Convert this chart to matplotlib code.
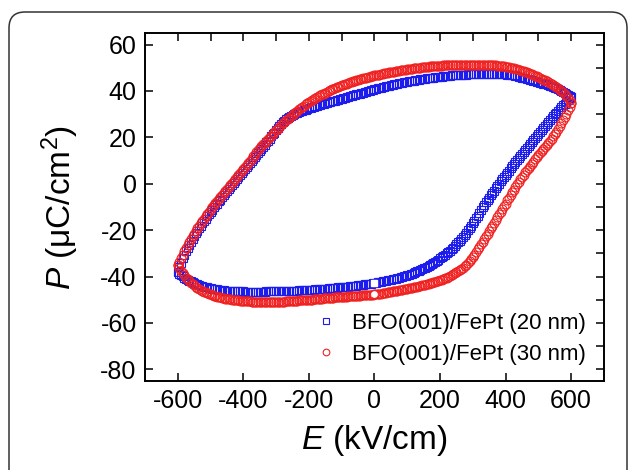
import matplotlib
matplotlib.use('Agg')
import matplotlib.pyplot as plt
from matplotlib.patches import FancyBboxPatch
from matplotlib.ticker import MultipleLocator
from matplotlib.transforms import IdentityTransform

plt.rcParams['font.family'] = ['Liberation Sans', 'DejaVu Sans']
plt.rcParams['mathtext.fontset'] = 'custom'
plt.rcParams['mathtext.rm'] = 'Liberation Sans'
plt.rcParams['mathtext.it'] = 'Liberation Sans:italic'
plt.rcParams['axes.unicode_minus'] = False

# field sweep (kV/cm), 5 kV/cm step
E_SWEEP = [-600, -595, -590, -585, -580, -575, -570, -565, -560, -555, -550, -545, -540, -535, -530, -525, -520, -515, -510, -505,
           -500, -495, -490, -485, -480, -475, -470, -465, -460, -455, -450, -445, -440, -435, -430, -425, -420, -415, -410, -405,
           -400, -395, -390, -385, -380, -375, -370, -365, -360, -355, -350, -345, -340, -335, -330, -325, -320, -315, -310, -305,
           -300, -295, -290, -285, -280, -275, -270, -265, -260, -255, -250, -245, -240, -235, -230, -225, -220, -215, -210, -205,
           -200, -195, -190, -185, -180, -175, -170, -165, -160, -155, -150, -145, -140, -135, -130, -125, -120, -115, -110, -105,
           -100, -95, -90, -85, -80, -75, -70, -65, -60, -55, -50, -45, -40, -35, -30, -25, -20, -15, -10, -5,
           0, 5, 10, 15, 20, 25, 30, 35, 40, 45, 50, 55, 60, 65, 70, 75, 80, 85, 90, 95,
           100, 105, 110, 115, 120, 125, 130, 135, 140, 145, 150, 155, 160, 165, 170, 175, 180, 185, 190, 195,
           200, 205, 210, 215, 220, 225, 230, 235, 240, 245, 250, 255, 260, 265, 270, 275, 280, 285, 290, 295,
           300, 305, 310, 315, 320, 325, 330, 335, 340, 345, 350, 355, 360, 365, 370, 375, 380, 385, 390, 395,
           400, 405, 410, 415, 420, 425, 430, 435, 440, 445, 450, 455, 460, 465, 470, 475, 480, 485, 490, 495,
           500, 505, 510, 515, 520, 525, 530, 535, 540, 545, 550, 555, 560, 565, 570, 575, 580, 585, 590, 595,
           600]

# 20 nm sample, upper / lower branch (uC/cm2)
P20_UP = [-38, -36, -34, -32.2, -30.5, -29, -27.5, -26.2, -25, -23.7, -22.5, -21.3, -20.2, -19.1, -18.1, -17, -16, -15, -14, -13,
          -12, -11.1, -10.2, -9.3, -8.5, -7.6, -6.8, -5.9, -5, -4.1, -3.2, -2.3, -1.5, -0.6, 0.3, 1.1, 2, 2.9, 3.8, 4.6,
          5.5, 6.4, 7.3, 8.1, 9, 9.9, 10.8, 11.6, 12.5, 13.4, 14.3, 15.1, 16, 16.9, 17.8, 18.6, 19.5, 20.4, 21.3, 22.1,
          23, 23.9, 24.8, 25.7, 26.5, 27.2, 27.8, 28.3, 28.8, 29.2, 29.6, 30, 30.3, 30.7, 31, 31.3, 31.5, 31.8, 32, 32.3,
          32.5, 32.8, 33, 33.2, 33.4, 33.7, 33.9, 34.1, 34.3, 34.5, 34.7, 34.9, 35.1, 35.3, 35.5, 35.7, 35.9, 36.1, 36.3, 36.5,
          36.7, 36.9, 37.1, 37.3, 37.5, 37.7, 37.9, 38.1, 38.3, 38.5, 38.7, 38.9, 39.1, 39.3, 39.5, 39.7, 39.9, 40.1, 40.3, 40.5,
          40.7, 40.9, 41.1, 41.3, 41.4, 41.6, 41.8, 42, 42.1, 42.3, 42.5, 42.7, 42.8, 43, 43.1, 43.3, 43.4, 43.6, 43.7, 43.9,
          44, 44.2, 44.3, 44.4, 44.5, 44.7, 44.8, 44.9, 45, 45.1, 45.2, 45.3, 45.4, 45.5, 45.6, 45.7, 45.8, 45.9, 46, 46.1,
          46.1, 46.2, 46.3, 46.4, 46.4, 46.5, 46.6, 46.7, 46.7, 46.8, 46.8, 46.9, 46.9, 47, 47, 47.1, 47.1, 47.2, 47.2, 47.3,
          47.3, 47.4, 47.4, 47.4, 47.4, 47.5, 47.5, 47.5, 47.5, 47.5, 47.5, 47.5, 47.5, 47.5, 47.5, 47.5, 47.4, 47.4, 47.3, 47.3,
          47.2, 47.1, 47, 46.9, 46.8, 46.7, 46.5, 46.4, 46.2, 46, 45.8, 45.6, 45.4, 45.2, 45, 44.8, 44.6, 44.4, 44.2, 44,
          43.8, 43.6, 43.4, 43.2, 43, 42.8, 42.5, 42.3, 42, 41.7, 41.4, 41.1, 40.8, 40.5, 40.1, 39.7, 39.3, 38.9, 38.4, 38,
          37.5]
P20_DN = [-38, -38.7, -39.3, -39.9, -40.4, -40.9, -41.3, -41.7, -42.1, -42.5, -42.8, -43.1, -43.4, -43.7, -43.9, -44.1, -44.3, -44.5, -44.7, -44.9,
          -45, -45.2, -45.3, -45.4, -45.5, -45.6, -45.7, -45.8, -45.9, -46, -46, -46.1, -46.1, -46.2, -46.2, -46.3, -46.3, -46.4, -46.4, -46.4,
          -46.4, -46.5, -46.5, -46.5, -46.5, -46.5, -46.5, -46.5, -46.5, -46.5, -46.5, -46.5, -46.5, -46.5, -46.4, -46.4, -46.4, -46.4, -46.4, -46.4,
          -46.3, -46.3, -46.3, -46.3, -46.2, -46.2, -46.2, -46.2, -46.1, -46.1, -46.1, -46.1, -46, -46, -45.9, -45.9, -45.9, -45.9, -45.8, -45.8,
          -45.7, -45.7, -45.6, -45.6, -45.5, -45.5, -45.4, -45.4, -45.3, -45.3, -45.2, -45.2, -45.1, -45.1, -45, -44.9, -44.8, -44.8, -44.7, -44.7,
          -44.6, -44.5, -44.4, -44.4, -44.3, -44.2, -44.1, -44.1, -44, -43.9, -43.8, -43.7, -43.6, -43.5, -43.4, -43.3, -43.2, -43.1, -43, -42.9,
          -42.8, -42.7, -42.5, -42.4, -42.2, -42.1, -41.9, -41.8, -41.6, -41.5, -41.3, -41.2, -41, -40.9, -40.7, -40.5, -40.3, -40.1, -39.9, -39.7,
          -39.4, -39.2, -38.9, -38.7, -38.4, -38.1, -37.8, -37.5, -37.2, -36.9, -36.5, -36.2, -35.8, -35.4, -35, -34.6, -34.1, -33.7, -33.2, -32.7,
          -32.2, -31.7, -31.1, -30.6, -30, -29.4, -28.8, -28.2, -27.5, -26.8, -26, -25.3, -24.5, -23.7, -22.8, -21.9, -21, -20, -19, -18,
          -17, -15.9, -14.8, -13.7, -12.5, -11.4, -10.2, -9.1, -8, -7, -6, -5, -4, -3, -2, -1, 0, 1, 1.9, 2.9,
          3.8, 4.8, 5.7, 6.6, 7.5, 8.4, 9.3, 10.2, 11, 11.9, 12.8, 13.7, 14.5, 15.4, 16.3, 17.2, 18, 18.9, 19.8, 20.7,
          21.5, 22.4, 23.3, 24.2, 25, 25.9, 26.7, 27.5, 28.3, 29.1, 29.9, 30.7, 31.5, 32.3, 33, 33.8, 34.5, 35.3, 36, 36.8,
          37.5]

# 30 nm sample, upper / lower branch (uC/cm2)
P30_UP = [-35, -33.5, -32, -30.5, -29, -27.7, -26.5, -25.2, -24, -22.7, -21.5, -20.3, -19.2, -18.1, -17.1, -16, -15, -14, -13, -12,
          -11, -10.1, -9.2, -8.3, -7.5, -6.6, -5.8, -4.9, -4, -3.1, -2.2, -1.3, -0.5, 0.4, 1.3, 2.1, 3, 3.9, 4.8, 5.6,
          6.5, 7.4, 8.3, 9.1, 10, 10.9, 11.8, 12.6, 13.5, 14.4, 15.3, 16.1, 17, 17.7, 18.5, 19.2, 20, 20.7, 21.5, 22.2,
          23, 23.7, 24.5, 25.2, 26, 26.7, 27.3, 27.9, 28.5, 29.2, 29.8, 30.4, 31, 31.5, 32.1, 32.6, 33.2, 33.7, 34.2, 34.7,
          35.2, 35.6, 36.1, 36.5, 37, 37.4, 37.8, 38.2, 38.6, 38.9, 39.3, 39.6, 40, 40.3, 40.7, 41, 41.3, 41.6, 41.9, 42.2,
          42.5, 42.7, 43, 43.2, 43.5, 43.7, 44, 44.2, 44.4, 44.6, 44.9, 45.1, 45.3, 45.5, 45.7, 45.8, 46, 46.2, 46.4, 46.5,
          46.7, 46.8, 47, 47.1, 47.3, 47.4, 47.6, 47.7, 47.9, 48, 48.2, 48.3, 48.4, 48.5, 48.7, 48.8, 48.9, 49, 49.1, 49.2,
          49.3, 49.4, 49.5, 49.6, 49.7, 49.8, 49.9, 50, 50.1, 50.2, 50.3, 50.3, 50.4, 50.5, 50.6, 50.6, 50.7, 50.7, 50.8, 50.8,
          50.9, 50.9, 51, 51, 51.1, 51.1, 51.2, 51.2, 51.2, 51.2, 51.3, 51.3, 51.3, 51.3, 51.4, 51.4, 51.4, 51.4, 51.4, 51.4,
          51.4, 51.4, 51.4, 51.4, 51.4, 51.4, 51.3, 51.3, 51.3, 51.2, 51.2, 51.1, 51.1, 51, 51, 50.9, 50.9, 50.8, 50.7, 50.6,
          50.5, 50.4, 50.3, 50.1, 50, 49.8, 49.6, 49.4, 49.2, 49, 48.8, 48.5, 48.3, 48, 47.8, 47.5, 47.2, 46.9, 46.6, 46.3,
          46, 45.6, 45.3, 44.9, 44.6, 44.2, 43.8, 43.4, 43, 42.5, 42.1, 41.6, 41.2, 40.6, 40.1, 39.5, 38.8, 38, 37.1, 36.1,
          35]
P30_DN = [-35, -36.3, -37.5, -38.5, -39.5, -40.4, -41.2, -41.9, -42.6, -43.2, -43.8, -44.3, -44.8, -45.3, -45.7, -46.1, -46.5, -46.8, -47.1, -47.4,
          -47.7, -48, -48.2, -48.4, -48.6, -48.8, -49, -49.2, -49.3, -49.5, -49.6, -49.7, -49.8, -49.9, -50, -50.1, -50.2, -50.3, -50.4, -50.5,
          -50.5, -50.6, -50.6, -50.7, -50.7, -50.8, -50.8, -50.8, -50.8, -50.9, -50.9, -50.9, -50.9, -50.9, -50.9, -50.9, -50.9, -50.9, -50.9, -50.9,
          -50.9, -50.9, -50.8, -50.8, -50.8, -50.8, -50.7, -50.7, -50.6, -50.6, -50.5, -50.5, -50.4, -50.4, -50.3, -50.3, -50.2, -50.2, -50.1, -50.1,
          -50, -50, -49.9, -49.8, -49.7, -49.7, -49.6, -49.6, -49.5, -49.4, -49.3, -49.3, -49.2, -49.2, -49.1, -49.1, -49, -48.9, -48.8, -48.8,
          -48.7, -48.7, -48.6, -48.6, -48.5, -48.5, -48.4, -48.4, -48.3, -48.3, -48.2, -48.2, -48.1, -48.1, -48, -48, -47.9, -47.9, -47.8, -47.8,
          -47.7, -47.6, -47.5, -47.4, -47.3, -47.2, -47, -46.9, -46.8, -46.7, -46.5, -46.4, -46.3, -46.2, -46, -45.9, -45.8, -45.7, -45.5, -45.4,
          -45.2, -45.1, -44.9, -44.8, -44.6, -44.5, -44.3, -44.2, -44, -43.8, -43.6, -43.5, -43.3, -43.1, -42.9, -42.7, -42.5, -42.3, -42.1, -41.9,
          -41.6, -41.3, -41, -40.7, -40.4, -40.1, -39.7, -39.4, -39, -38.6, -38.2, -37.7, -37.2, -36.7, -36.1, -35.5, -34.8, -34.1, -33.3, -32.4,
          -31.5, -30.5, -29.4, -28.3, -27.2, -26.1, -25, -23.9, -22.7, -21.6, -20.4, -19.2, -18, -16.8, -15.6, -14.4, -13.2, -12, -10.8, -9.6,
          -8.5, -7.2, -6, -4.8, -3.6, -2.5, -1.4, -0.3, 0.8, 1.9, 2.9, 3.9, 4.9, 5.9, 6.8, 7.8, 8.7, 9.6, 10.5, 11.4,
          12.3, 13.2, 14, 14.9, 15.8, 16.7, 17.6, 18.5, 19.5, 20.5, 21.5, 22.5, 23.6, 24.8, 26, 27.4, 28.8, 30.2, 31.7, 33.3,
          35]

LABELS = ['BFO(001)/FePt (20 nm)', 'BFO(001)/FePt (30 nm)']
BLUE = '#1c1cec'
RED = '#f02020'

fig = plt.figure(figsize=(6.29, 4.70), dpi=100)
ax = fig.add_axes([0.2305, 0.1894, 0.7297, 0.7404])

# outer rounded frame
frame = FancyBboxPatch((9, -40), 618, 498, boxstyle='round,pad=0,rounding_size=16',
                       transform=IdentityTransform(), facecolor='none',
                       edgecolor='#333333', linewidth=1.1, zorder=0)
fig.patches.append(frame)

e_loop = E_SWEEP + E_SWEEP[::-1]
p20 = P20_UP + P20_DN[::-1]
p30 = P30_UP + P30_DN[::-1]

ax.plot(e_loop, p20, linestyle='none', marker='s', ms=5.8, mew=0.8,
        mfc='none', mec=BLUE, label=LABELS[0])
ax.plot(e_loop, p30, linestyle='none', marker='o', ms=6.4, mew=0.8,
        mfc='none', mec=RED, label=LABELS[1])

# start points of the sweep show as white dots
i0 = E_SWEEP.index(0)
ax.plot([E_SWEEP[i0]], [P20_DN[i0]], linestyle='none', marker='s', ms=3.8,
        mfc='white', mec='white')
ax.plot([E_SWEEP[i0]], [P30_DN[i0]], linestyle='none', marker='o', ms=3.8,
        mfc='white', mec='white')

ax.set_xlim(-700, 700)
ax.set_ylim(-85, 65)
ax.xaxis.set_major_locator(MultipleLocator(200))
ax.xaxis.set_minor_locator(MultipleLocator(100))
ax.yaxis.set_major_locator(MultipleLocator(20))
ax.yaxis.set_minor_locator(MultipleLocator(10))
ax.tick_params(which='major', direction='in', length=6, width=1.1,
               top=True, right=True, labelsize=18, pad=6)
ax.tick_params(which='minor', direction='in', length=6, width=1.1,
               bottom=False, left=False, top=True, right=True)
for s in ax.spines.values():
    s.set_linewidth(1.4)

ax.set_xlabel('$\\it{E}$ (kV/cm)', fontsize=24, labelpad=7)
ax.set_ylabel('$\\it{P}$ (μC/cm$^2$)', fontsize=24, labelpad=14)

ax.legend(loc='lower right', bbox_to_anchor=(0.99, 0.008), frameon=False,
          fontsize=16, markerscale=0.75, handlelength=1.2,
          handletextpad=0.6, labelspacing=0.45, borderaxespad=0.2)

plt.savefig('out.png', dpi=100)
